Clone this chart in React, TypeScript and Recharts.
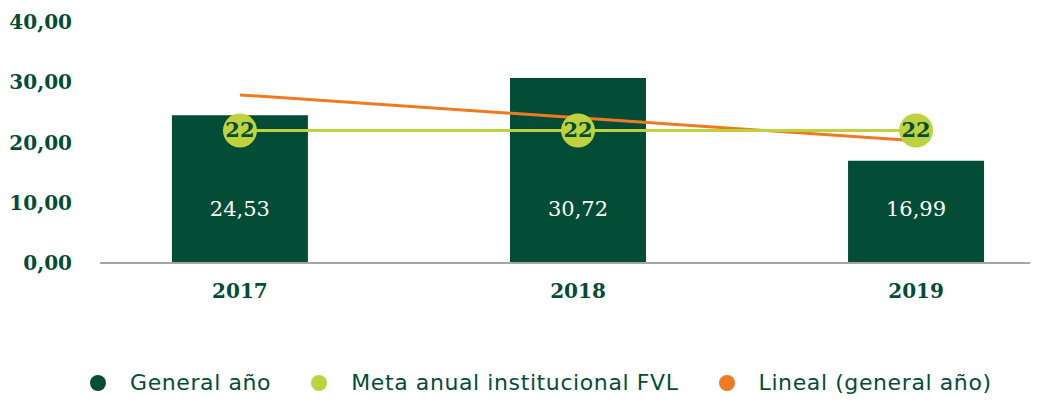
import { ComposedChart, Bar, Line, XAxis, YAxis, Legend, LabelList } from 'recharts'

const years = ['2017', '2018', '2019']
const generalAnio = [24.53, 30.72, 16.99]
const metaAnual = [22, 22, 22]
const lineal = [27.9, 24.1, 20.3]
const yTicks = [0, 10, 20, 30, 40]

const DARK = '#034d36'
const LIME = '#bfd23d'
const ORANGE = '#ef7a21'
const SERIF = '"DejaVu Serif", serif'
const SANS = '"DejaVu Sans", sans-serif'

const data = years.map((y, i) => ({ i, year: y, general: generalAnio[i], meta: metaAnual[i], lineal: lineal[i] }))

const fmt = (v: number) => v.toFixed(2).replace('.', ',')

const legendItems = [
  { name: 'General año', color: DARK },
  { name: 'Meta anual institucional FVL', color: LIME },
  { name: 'Lineal (general año)', color: ORANGE },
]

function MetaDot(props: any) {
  const { cx, cy, payload, index } = props
  return (
    <g key={'m' + index}>
      <circle cx={cx} cy={cy} r={17} fill={LIME} />
      <text x={cx} y={cy} dy={7} textAnchor="middle" fill={DARK} fontFamily={SERIF} fontWeight={700} fontSize={21}>
        {payload.meta}
      </text>
    </g>
  )
}

function BarValue(props: any) {
  const { x, y, width, height, value } = props
  return (
    <text x={x + width / 2} y={y + height - 55} dy={8} textAnchor="middle" fill="#ffffff" fontFamily={SERIF} fontSize={21}>
      {fmt(Number(value))}
    </text>
  )
}

function LegendBox() {
  return (
    <div style={{ height: 102, display: 'flex', justifyContent: 'flex-start', alignItems: 'flex-end', paddingLeft: 90, paddingBottom: 7, boxSizing: 'border-box', fontFamily: SANS, fontWeight: 400, fontSize: 22, letterSpacing: 0.6, color: DARK }}>
      {legendItems.map((it) => (
        <div key={it.name} style={{ display: 'flex', alignItems: 'center', marginRight: 40, lineHeight: '24px', whiteSpace: 'nowrap' }}>
          <span style={{ width: 16, height: 16, borderRadius: 8, background: it.color, marginRight: 24, display: 'inline-block' }} />
          {it.name}
        </div>
      ))}
    </div>
  )
}

export default function App() {
  return (
    <div style={{ margin: -8, width: 1042, height: 402, background: '#fff' }}>
      <ComposedChart width={1042} height={402} data={data} margin={{ top: 22, right: 12, bottom: 0, left: 0 }}>
        <XAxis
          type="number"
          dataKey="i"
          domain={[-0.414, 2.337]}
          ticks={[0, 1, 2]}
          tickFormatter={(v) => years[v]}
          height={37}
          tickLine={false}
          axisLine={{ stroke: '#a6a6a6', strokeWidth: 2 }}
          tick={{ fill: DARK, fontFamily: SERIF, fontWeight: 700, fontSize: 20 }}
          tickMargin={15}
        />
        <YAxis
          domain={[0, 40]}
          ticks={yTicks}
          tickFormatter={(v) => fmt(Number(v))}
          width={100}
          tickLine={false}
          axisLine={false}
          tickSize={0}
          tickMargin={28}
          tick={{ fill: DARK, fontFamily: SERIF, fontWeight: 700, fontSize: 20 }}
        />
        <Legend verticalAlign="bottom" content={() => <LegendBox />} />
        <Bar dataKey="general" name="General año" fill={DARK} barSize={136} isAnimationActive={false}>
          <LabelList dataKey="general" content={BarValue} />
        </Bar>
        <Line dataKey="lineal" name="Lineal (general año)" stroke={ORANGE} strokeWidth={3} dot={false} isAnimationActive={false} />
        <Line dataKey="meta" name="Meta anual institucional FVL" stroke={LIME} strokeWidth={3} dot={MetaDot} activeDot={false} isAnimationActive={false} />
      </ComposedChart>
    </div>
  )
}
